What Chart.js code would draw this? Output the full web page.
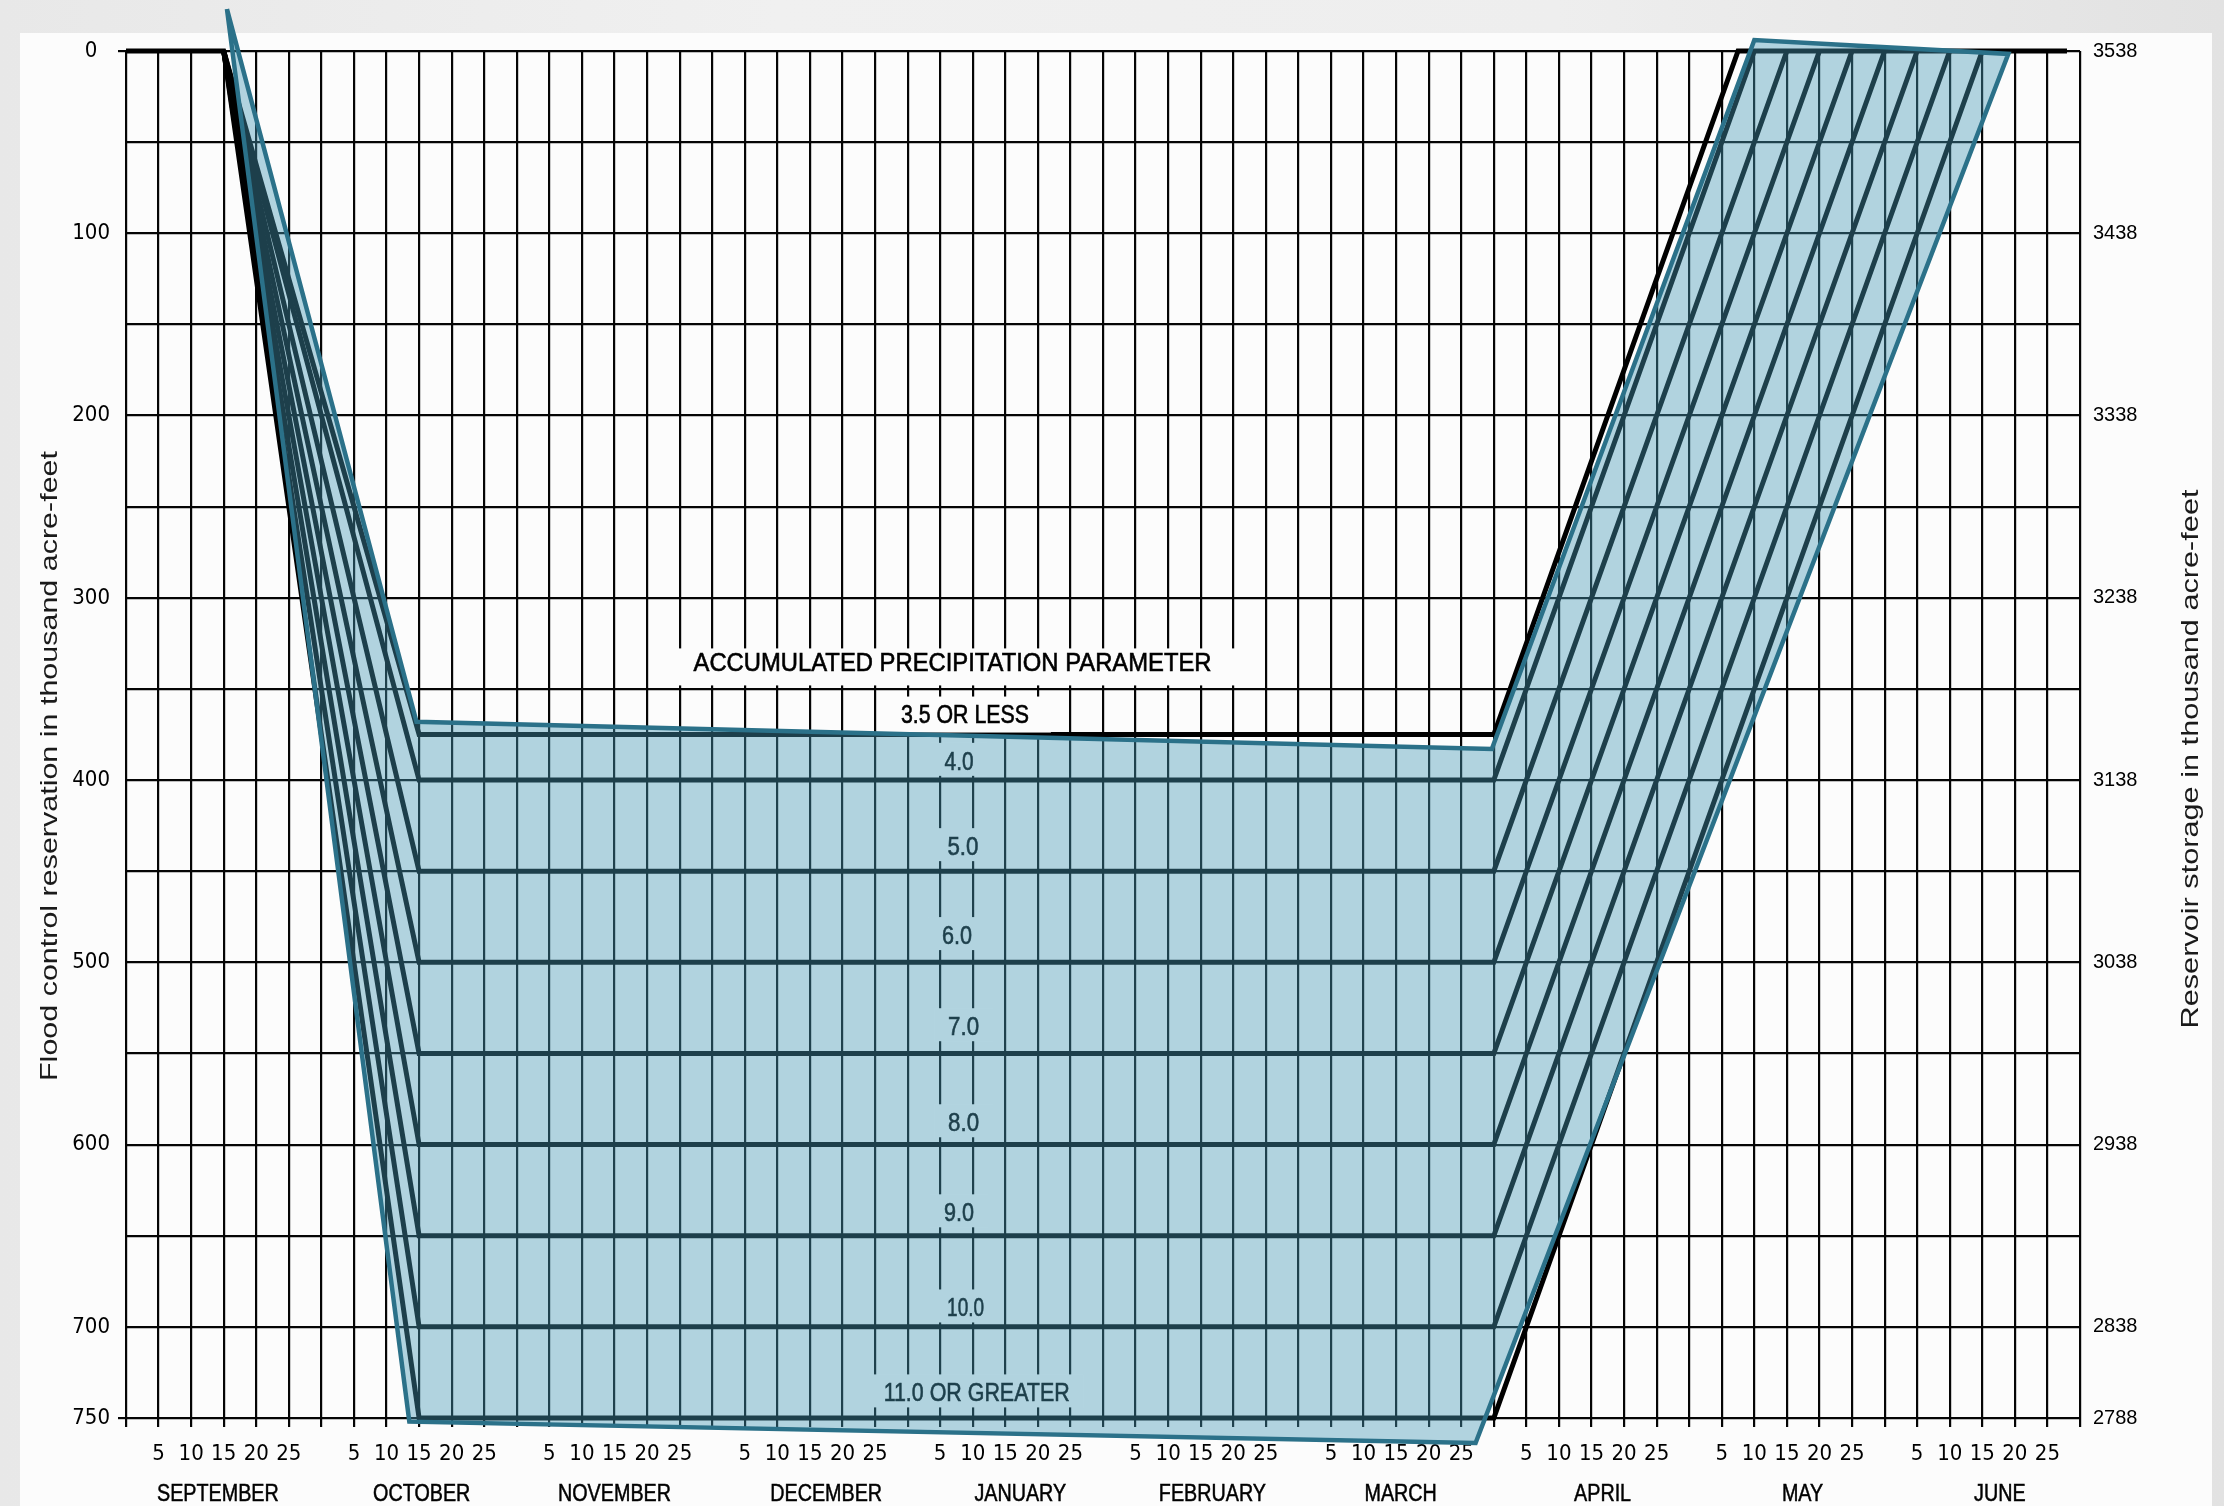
<!DOCTYPE html>
<html><head><meta charset="utf-8">
<script src="https://cdn.jsdelivr.net/npm/chart.js@4.4.0/dist/chart.umd.min.js"></script>
<style>
html,body{margin:0;padding:0;width:2224px;height:1506px;overflow:hidden;}
body{background:linear-gradient(90deg,#e8e8e8 0%,#f0f0f0 35%,#eeeeee 70%,#e2e2e2 100%);position:relative;}
#card{position:absolute;left:20px;top:33px;width:2192px;height:1473px;background:#fcfcfc;}
#c{position:absolute;left:0;top:0;}
</style></head><body><div id="card"></div><canvas id="c" width="2224" height="1506"></canvas>
<script>
// ---------------- DATA ----------------
const months = ['SEPTEMBER','OCTOBER','NOVEMBER','DECEMBER','JANUARY','FEBRUARY','MARCH','APRIL','MAY','JUNE'];
const monthLabelDays = [14.1,45.4,75,107.5,137.3,166.8,195.7,226.7,257.4,287.7];
const dayOfMonthLabels = ['','5','10','15','20','25'];
const reservationGrid = [0,50,100,150,200,250,300,350,400,450,500,550,600,650,700,750];
const reservationLabeled = [0,100,200,300,400,500,600,700,750];
const storageTicks = [3538,3438,3338,3238,3138,3038,2938,2838,2788];

// flood-control reservation curves (thousand acre-feet) by accumulated precipitation parameter
const levels = [375,400,450,500,550,600,650,700,750];
const drawdownStartDay = 15;   // Sept 15
const drawdownEndDay = 45;     // Oct 15
const refillStartDay = 210;    // Apr 1
const refillEndDays = [247.5,250,255,260,265,270,275,280,285];
const fullPoolLeft = [0,15];
const fullPoolRight = [247.5,298];

// parameter labels
const paramLabels = ['ACCUMULATED PRECIPITATION PARAMETER','3.5 OR LESS','4.0','5.0','6.0','7.0','8.0','9.0','10.0','11.0 OR GREATER'];
const paramLabelDays = [126.9,128.8,127.9,128.5,127.6,128.6,128.6,127.9,128.9,130.6];
const paramLabelValues = [336,364.6,390,436.8,485.6,535.6,588.3,637.7,689.9,736.5];

// highlighted overlay polygon (day, reservation)
const overlayDays = [15.5,44.6,209.7,250,289,207.2,43.5,15.5];
const overlayValues = [-23,368,383,-6,1.6,763.7,752,-23];

// ---------------- STYLE ----------------
const NARROW = "'Liberation Sans Narrow','Arial Narrow','DejaVu Sans Condensed','Liberation Sans',sans-serif";
const SANS = "'Liberation Sans',Arial,sans-serif";
const labelWidths = [518,128,29,31,30,31,31,30,37,186];
const GRID = '#050505';

// x ticks
const xTickValues = [], xTickLabels = [];
months.forEach((m, mi) => dayOfMonthLabels.forEach((l, j) => { xTickValues.push(mi*30 + j*5); xTickLabels.push(l); }));
xTickValues.push(300); xTickLabels.push('');

function levelPoints(i) {
  const L = levels[i];
  const pts = [];
  if (i === 0) pts.push({x: fullPoolLeft[0], y: 0});
  pts.push({x: drawdownStartDay, y: 0}, {x: drawdownEndDay, y: L}, {x: refillStartDay, y: L}, {x: refillEndDays[i], y: 0});
  if (i === 0) pts.push({x: fullPoolRight[1], y: 0});
  return pts;
}

const datasets = [];
datasets.push({
  label: 'overlay', isOverlay: true,
  data: overlayDays.map((d, i) => ({x: d, y: overlayValues[i]})),
  borderColor: '#2b7189', borderWidth: 4.5, borderJoinStyle: 'miter',
  pointRadius: 0, fill: false, tension: 0, clip: false, order: 0
});
levels.forEach((L, i) => datasets.push({
  label: 'level ' + L,
  data: levelPoints(i),
  borderColor: '#000', borderWidth: 5, borderJoinStyle: 'miter',
  pointRadius: 0, fill: false, tension: 0, clip: false, order: 5
}));

function drawText(ctx, text, x, y, o) {
  ctx.save();
  ctx.font = (o.weight || '') + ' ' + o.size + 'px ' + o.family;
  let sx = o.sx || 1;
  if (o.width) sx = o.width / ctx.measureText(text).width;
  ctx.translate(x, y);
  if (o.rot) ctx.rotate(o.rot);
  ctx.scale(sx, 1);
  ctx.fillStyle = o.color || '#000';
  ctx.textAlign = 'center'; ctx.textBaseline = 'middle';
  ctx.fillText(text, 0, 0);
  if (o.stroke) { ctx.lineWidth = o.stroke; ctx.strokeStyle = o.color || '#000'; ctx.strokeText(text, 0, 0); }
  ctx.restore();
}

const overlayPlugin = {
  id: 'overlayPlugin',
  beforeDatasetDraw(chart, args) {
    const ds = chart.data.datasets[args.index];
    if (!ds.isOverlay) return;
    const ctx = chart.ctx, xs = chart.scales.x, ys = chart.scales.y;
    paramLabels.forEach((t, i) => {
      const cx = xs.getPixelForValue(paramLabelDays[i]);
      const cy = ys.getPixelForValue(paramLabelValues[i]);
      const w = labelWidths[i];
      ctx.save();
      ctx.fillStyle = '#fcfcfc';
      if (i === 0) ctx.fillRect(cx - w/2 - 24, cy - 15, w + 48, 37);
      else if (i === 1) ctx.fillRect(cx - w/2 - 22, cy - 19, w + 44, 36);
      else ctx.fillRect(cx - w/2 - 14, cy - 19, w + 28, 33);
      ctx.restore();
      drawText(ctx, t, cx, cy + 1, {size: 25, family: SANS, width: w, color: '#000', stroke: 0.6});
    });
    const pts = args.meta.data;
    ctx.save();
    ctx.beginPath();
    pts.forEach((p, i) => i ? ctx.lineTo(p.x, p.y) : ctx.moveTo(p.x, p.y));
    ctx.closePath();
    ctx.fillStyle = 'rgba(71,154,181,0.41)';
    ctx.fill();
    ctx.restore();
  },
  afterDraw(chart) {
    const ctx = chart.ctx, xs = chart.scales.x;
    months.forEach((m, i) => {
      drawText(ctx, m, xs.getPixelForValue(monthLabelDays[i]), 1495, {size: 23.5, family: SANS, sx: 0.84, color: '#000', stroke: 0.5});
    });
    drawText(ctx, 'Flood control reservation in thousand acre-feet', 50, 766, {size: 24, family: SANS, width: 630, rot: -Math.PI/2, color: '#1a1a1a'});
    drawText(ctx, 'Reservoir storage in thousand acre-feet', 2191, 759, {size: 24, family: SANS, width: 539, rot: -Math.PI/2, color: '#1a1a1a'});
  }
};

new Chart(document.getElementById('c'), {
  type: 'line',
  data: {datasets},
  plugins: [overlayPlugin],
  options: {
    responsive: false, animation: false, events: [],
    layout: {padding: {top: 51, left: 0, right: 0, bottom: 0}},
    plugins: {legend: {display: false}, tooltip: {enabled: false}},
    scales: {
      x: {
        type: 'linear', min: 0, max: 300, position: 'bottom',
        afterBuildTicks: s => { s.ticks = xTickValues.map(v => ({value: v})); },
        afterFit: s => { s.height = 88; },
        ticks: {autoSkip: false, maxRotation: 0, minRotation: 0, padding: 14, color: '#000',
          font: {family: NARROW, size: 22}, callback: (v, i) => xTickLabels[i]},
        grid: {color: GRID, lineWidth: 2.2, tickLength: 9, drawTicks: true, tickColor: GRID, tickWidth: 2.2},
        border: {display: false}
      },
      y: {
        type: 'linear', min: 0, max: 750, reverse: true, position: 'left',
        afterBuildTicks: s => { s.ticks = reservationGrid.map(v => ({value: v})); },
        afterFit: s => { s.width = 126; },
        ticks: {crossAlign: 'center', padding: 8, color: '#000', font: {family: NARROW, size: 22},
          callback: v => reservationLabeled.includes(v) ? String(v) : ''},
        grid: {color: GRID, lineWidth: 2.2, tickLength: 8, tickWidth: 2.2,
          tickColor: c => (c.tick && (c.tick.value === 0 || c.tick.value === 750)) ? GRID : 'rgba(0,0,0,0)'},
        border: {display: false}
      },
      y2: {
        type: 'linear', min: 2788, max: 3538, position: 'right',
        afterBuildTicks: s => { s.ticks = storageTicks.map(v => ({value: v})); },
        afterFit: s => { s.width = 144; },
        ticks: {crossAlign: 'near', padding: 13, color: '#000', font: {family: SANS, size: 20}, callback: v => String(v)},
        grid: {display: false, drawTicks: false, drawOnChartArea: false},
        border: {display: false}
      }
    }
  }
});
</script></body></html>
